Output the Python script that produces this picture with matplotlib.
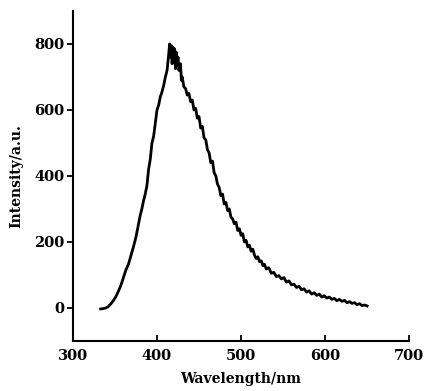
import numpy as np
import matplotlib
matplotlib.use("Agg")
import matplotlib.pyplot as plt

plt.rcParams["font.family"] = ["DejaVu Serif"]
plt.rcParams["font.weight"] = "bold"

# ── data ──────────────────────────────────────────────────────────────
wavelength = [333, 336, 339, 342, 345, 348, 351, 354, 357, 360, 363, 366,
              369, 372, 375, 378,
              380, 382, 384, 386, 388, 390, 392, 394, 396, 398, 400, 402,
              404, 406, 408, 410, 412, 413, 414, 415, 416, 417, 418, 419,
              420, 421, 422, 423, 424, 425, 426, 428, 429, 430, 432, 434,
              436, 438, 440, 442, 444, 446, 448, 450, 452, 454, 456, 458,
              460, 462, 464, 466, 468, 470, 472, 474, 476, 478, 480, 482,
              484, 486, 488, 490, 492, 494, 496, 498, 500, 502, 504, 506,
              508, 510, 512, 514, 516, 518, 520, 522, 524, 526, 528, 530,
              533, 536, 539, 542, 545, 548, 551, 554, 557, 560, 563, 566,
              569, 572, 575, 578, 581, 584, 587, 590, 593, 596, 599, 602,
              605, 608, 611, 614, 617, 620, 623, 626, 629, 632, 635, 638,
              641, 644, 647, 650]
intensity = [-3, -2, 0, 4, 12, 22, 34, 50, 68, 92, 115, 132,
             158, 185, 215, 255,
             280, 300, 325, 345, 370, 420, 450, 500, 520, 560, 600, 615,
             640, 655, 675, 700, 720, 745, 770, 800, 760, 795, 740, 790,
             745, 785, 725, 775, 735, 760, 720, 740, 690, 700, 670, 665,
             645, 650, 625, 630, 600, 605, 575, 580, 545, 550, 515, 510,
             480, 470, 440, 445, 410, 400, 375, 365, 340, 345, 315, 320,
             295, 300, 275, 270, 255, 260, 235, 240, 220, 225, 200, 205,
             185, 190, 172, 178, 160, 150, 155, 140, 143, 128, 132, 118,
             122, 105, 108, 95, 98, 88, 92, 78, 82, 70, 72, 62,
             66, 55, 58, 48, 52, 42, 46, 38, 42, 33, 37, 30,
             33, 26, 29, 22, 26, 20, 23, 16, 19, 14, 16, 10,
             13, 7, 9, 6]

# ── figure ────────────────────────────────────────────────────────────
fig = plt.figure(figsize=(4.24, 3.91), dpi=100)
ax = fig.add_axes([0.172, 0.128, 0.793, 0.844])

ax.plot(wavelength, intensity, color="black", lw=2.0)

ax.set_xlim(300, 700)
ax.set_ylim(-100, 900)
ax.set_xticks([300, 400, 500, 600, 700])
ax.set_yticks([0, 200, 400, 600, 800])

for s in ["top", "right"]:
    ax.spines[s].set_visible(False)
for s in ["left", "bottom"]:
    ax.spines[s].set_linewidth(1.5)

ax.tick_params(axis="x", direction="in", length=4, width=1.3, labelsize=10.5, pad=6)
ax.tick_params(axis="y", direction="out", length=4, width=1.3, labelsize=10.5, pad=2)

ax.set_xlabel("Wavelength/nm", fontsize=10, fontweight="bold", labelpad=6)
ax.set_ylabel("Intensity/a.u.", fontsize=10, fontweight="bold", labelpad=8)

plt.savefig("out.png", dpi=100)
